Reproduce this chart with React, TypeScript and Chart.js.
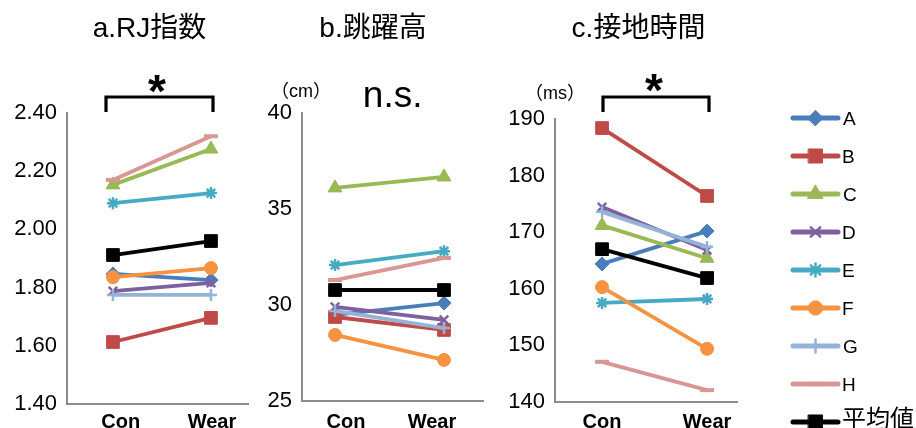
import React, { useEffect, useRef } from 'react';
import { Chart, registerables } from 'chart.js';
import { drawPoint } from 'chart.js/helpers';

Chart.register(...registerables);

const FONT = '"Liberation Sans", "Noto Sans CJK JP", sans-serif';
Chart.defaults.font.family = FONT;

// ---- data ----
const categories = ['Con', 'Wear'];
const seriesNames = ['A', 'B', 'C', 'D', 'E', 'F', 'G', 'H', '平均値'];
const seriesColors = ['#4A7EBB', '#BE4B48', '#98B954', '#7D60A0', '#46AAC5', '#F69240', '#95B3D7', '#D99694', '#000000'];
const pointStyles = ['rectRot', 'rect', 'triangle', 'crossRot', 'star', 'circle', 'cross', 'line', 'rect'];
const pointRadii = [7, 9, 8, 6, 6, 6.5, 6, 7, 9];

// a. RJ指数
const rjCon = [1.847, 1.613, 2.153, 1.788, 2.09, 1.836, 1.775, 2.17, 1.912];
const rjWear = [1.826, 1.696, 2.276, 1.816, 2.125, 1.867, 1.775, 2.32, 1.96];
// b. 跳躍高 (cm)
const jumpCon = [29.48, 29.375, 36.1, 29.9, 32.08, 28.44, 29.69, 31.3, 30.78];
const jumpWear = [30.1, 28.7, 36.67, 29.22, 32.8, 27.14, 28.8, 32.45, 30.78];
// c. 接地時間 (ms)
const contactCon = [164.4, 188.4, 171.2, 174.45, 157.5, 160.3, 173.6, 147.1, 167.0];
const contactWear = [170.2, 176.4, 165.4, 166.85, 158.2, 149.4, 167.4, 142.1, 161.9];

const titles = ['a.RJ指数', 'b.跳躍高', 'c.接地時間'];
const units = ['', '（cm）', '（ms）'];
const sigMarks = ['*', 'n.s.', '*'];

// ---- helpers ----
function inkText(ctx: CanvasRenderingContext2D, text: string, cx: number, cy: number, font: string, color = '#000') {
  ctx.save();
  ctx.font = font;
  ctx.fillStyle = color;
  ctx.textAlign = 'left';
  ctx.textBaseline = 'alphabetic';
  const m = ctx.measureText(text);
  const x = cx - (m.actualBoundingBoxRight - m.actualBoundingBoxLeft) / 2;
  const y = cy + (m.actualBoundingBoxAscent - m.actualBoundingBoxDescent) / 2;
  ctx.fillText(text, x, y);
  ctx.restore();
}

function leftText(ctx: CanvasRenderingContext2D, text: string, x: number, cy: number, font: string) {
  ctx.save();
  ctx.font = font;
  ctx.fillStyle = '#000';
  ctx.textAlign = 'left';
  ctx.textBaseline = 'alphabetic';
  const m = ctx.measureText(text);
  const y = cy + (m.actualBoundingBoxAscent - m.actualBoundingBoxDescent) / 2;
  ctx.fillText(text, x + m.actualBoundingBoxLeft, y);
  ctx.restore();
}

function bracket(ctx: CanvasRenderingContext2D, x1: number, x2: number, top: number, bottom: number) {
  ctx.save();
  ctx.strokeStyle = '#000';
  ctx.lineWidth = 3.2;
  ctx.lineJoin = 'miter';
  ctx.beginPath();
  ctx.moveTo(x1, bottom);
  ctx.lineTo(x1, top);
  ctx.lineTo(x2, top);
  ctx.lineTo(x2, bottom);
  ctx.stroke();
  ctx.restore();
}

function drawLegend(chart: any, lineX1: number, lineX2: number, textX: number, y0: number, dy: number) {
  const ctx: CanvasRenderingContext2D = chart.ctx;
  chart.data.datasets.forEach((ds: any, i: number) => {
    const y = y0 + i * dy;
    ctx.save();
    ctx.strokeStyle = ds.borderColor;
    ctx.lineWidth = 5;
    ctx.lineCap = 'round';
    ctx.beginPath();
    ctx.moveTo(lineX1, y);
    ctx.lineTo(lineX2, y);
    ctx.stroke();
    ctx.fillStyle = ds.pointBackgroundColor;
    ctx.strokeStyle = ds.pointBorderColor;
    ctx.lineWidth = ds.pointBorderWidth;
    drawPoint(ctx, { pointStyle: ds.pointStyle, radius: ds.pointRadius * 1.1, rotation: 0, borderWidth: ds.pointBorderWidth } as any, (lineX1 + lineX2) / 2, y);
    ctx.restore();
    const isCJK = /[^\x00-\x7F]/.test(ds.label);
    leftText(ctx, ds.label, textX, isCJK ? y - 4 : y, (isCJK ? '24px ' : '19px ') + FONT);
  });
}

type Panel = {
  left: number; width: number;
  yAxisWidth: number; padTop: number; padRight: number; xAxisHeight: number; labelPad: number;
  xMin: number; xMax: number; labelAt: number[];
  yMin: number; yMax: number; yStep: number; decimals: number;
  con: number[]; wear: number[];
  decor: (chart: any) => void;
};

const panels: Panel[] = [
  {
    left: 0, width: 260, yAxisWidth: 67, padTop: 113, padRight: 12, xAxisHeight: 24, labelPad: 6,
    xMin: -0.469, xMax: 1.378, labelAt: [0.08, 1.01], yMin: 1.4, yMax: 2.4, yStep: 0.2, decimals: 2,
    con: rjCon, wear: rjWear,
    decor: (chart) => {
      const ctx = chart.ctx;
      inkText(ctx, titles[0], 150, 26, '28px ' + FONT);
      bracket(ctx, 106, 213, 97, 112);
      inkText(ctx, sigMarks[0], 157, 84, 'bold 46px ' + FONT);
    },
  },
  {
    left: 260, width: 240, yAxisWidth: 42, padTop: 113, padRight: 17, xAxisHeight: 27, labelPad: 9,
    xMin: -0.303, xMax: 1.358, labelAt: [0.1, 0.89], yMin: 25, yMax: 40, yStep: 5, decimals: 0,
    con: jumpCon, wear: jumpWear,
    decor: (chart) => {
      const ctx = chart.ctx;
      inkText(ctx, titles[1], 113, 26, '28px ' + FONT);
      inkText(ctx, units[1], 41, 90, '18px ' + FONT);
      inkText(ctx, sigMarks[1], 132, 97, '37px ' + FONT);
    },
  },
  {
    left: 500, width: 416, yAxisWidth: 55, padTop: 119, padRight: 179, xAxisHeight: 26, labelPad: 8,
    xMin: -0.448, xMax: 1.285, labelAt: [0, 1], yMin: 140, yMax: 190, yStep: 10, decimals: 0,
    con: contactCon, wear: contactWear,
    decor: (chart) => {
      const ctx = chart.ctx;
      inkText(ctx, titles[2], 138, 26, '28px ' + FONT);
      inkText(ctx, units[2], 55, 92, '18px ' + FONT);
      bracket(ctx, 103, 209, 97, 112);
      inkText(ctx, sigMarks[2], 154, 83, 'bold 46px ' + FONT);
      drawLegend(chart, 293, 338, 343, 118, 38);
    },
  },
];

function ChartPanel({ p }: { p: Panel }) {
  const ref = useRef<HTMLCanvasElement>(null);
  useEffect(() => {
    if (!ref.current) return;
    const n = seriesNames.length;
    const datasets = seriesNames.map((name, i) => {
      const crossy = ['crossRot', 'star', 'cross', 'line'].includes(pointStyles[i]);
      return {
        label: name,
        data: [p.con[i], p.wear[i]].map((v, k) => ({ x: k, y: v })),
        borderColor: seriesColors[i],
        backgroundColor: seriesColors[i],
        pointBackgroundColor: seriesColors[i],
        pointBorderColor: seriesColors[i],
        pointStyle: pointStyles[i],
        pointRadius: pointRadii[i],
        pointBorderWidth: crossy ? (pointStyles[i] === 'line' ? 4 : 2.5) : 1,
        borderWidth: 3.8,
        tension: 0,
        order: n - i,
        clip: false as any,
      };
    });
    const decorPlugin = { id: 'decor', afterDraw: (chart: any) => p.decor(chart) };
    const chart = new Chart(ref.current, {
      type: 'line',
      data: { datasets },
      options: {
        animation: false,
        responsive: false,
        events: [],
        layout: { padding: { top: p.padTop, right: p.padRight, left: 0, bottom: 0 } },
        plugins: { legend: { display: false }, tooltip: { enabled: false }, title: { display: false } },
        scales: {
          x: {
            type: 'linear',
            min: p.xMin,
            max: p.xMax,
            grid: { display: false, drawTicks: false },
            border: { display: true, color: '#8c8c8c', width: 2 },
            afterBuildTicks: (scale: any) => { scale.ticks = p.labelAt.map((v) => ({ value: v })); },
            afterFit: (scale: any) => { scale.height = p.xAxisHeight; },
            ticks: {
              padding: p.labelPad,
              color: '#000',
              font: { size: 20, weight: 'bold' },
              maxRotation: 0,
              autoSkip: false,
              callback: (_v: any, idx: number) => categories[idx] ?? '',
            },
          },
          y: {
            type: 'linear',
            min: p.yMin,
            max: p.yMax,
            grid: { display: false, drawTicks: false },
            border: { display: true, color: '#8c8c8c', width: 2 },
            afterFit: (scale: any) => { scale.width = p.yAxisWidth; },
            ticks: {
              stepSize: p.yStep,
              padding: 10,
              color: '#000',
              font: { size: 22 },
              callback: (v: any) => Number(v).toFixed(p.decimals),
            },
          },
        },
      } as any,
      plugins: [decorPlugin],
    });
    return () => chart.destroy();
  }, [p]);
  return (
    <canvas
      ref={ref}
      width={p.width}
      height={428}
      style={{ position: 'absolute', left: p.left, top: 0, width: p.width, height: 428 }}
    />
  );
}

export default function App() {
  return (
    <div style={{ position: 'fixed', left: 0, top: 0, width: 916, height: 428, background: '#fff', overflow: 'hidden' }}>
      {panels.map((p, i) => (
        <ChartPanel key={i} p={p} />
      ))}
    </div>
  );
}
